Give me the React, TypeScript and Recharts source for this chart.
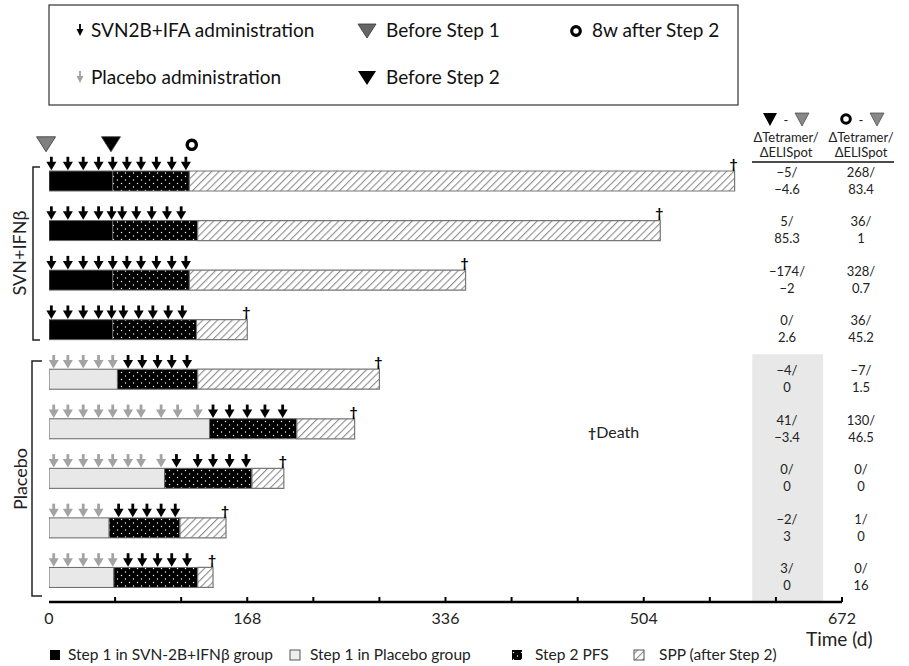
import React from 'react';
import { ComposedChart, Bar, XAxis, YAxis, Cell, ReferenceDot, ReferenceArea } from 'recharts';

const FONT = 'Lato, "Open Sans", sans-serif';

// ---- data ----
const rows = ['S1', 'S2', 'S3', 'S4', 'P1', 'P2', 'P3', 'P4', 'P5'];
const isPlacebo = [false, false, false, false, true, true, true, true, true];
const step1End = [54, 54, 54, 54, 58, 136, 98, 51, 55];
const step2End = [119, 126, 119, 125, 126, 210, 172, 111, 126];
const lastDay = [581, 518, 353, 168, 280, 259, 199, 150, 139];

const vaccineDays = [
  [2, 16, 29, 42, 54, 66, 78, 91, 104, 116],
  [2, 16, 29, 42, 53, 62, 74, 87, 100, 112],
  [2, 16, 29, 42, 54, 66, 78, 91, 104, 116],
  [2, 16, 29, 42, 53, 63, 76, 88, 101, 113],
  [67, 79, 92, 104, 117],
  [139, 153, 168, 183, 198],
  [108, 126, 139, 153, 167],
  [59, 71, 83, 95, 107],
  [67, 79, 92, 104, 117],
];
const placeboDays = [
  [], [], [], [],
  [4, 16, 29, 42, 54],
  [4, 16, 29, 42, 54, 67, 78, 95, 109, 126],
  [4, 16, 29, 42, 54, 67, 78, 95],
  [4, 16, 29, 42],
  [4, 16, 29, 42, 54],
];

const beforeStep1Day = -2.5;
const beforeStep2Day = 52.5;
const after8wDay = 121;

const tetBefore = [-5, 5, -174, 0, -4, 41, 0, -2, 3];
const eliBefore = [-4.6, 85.3, -2, 2.6, 0, -3.4, 0, 3, 0];
const tet8w = [268, 36, 328, 36, -7, 130, 0, 1, 0];
const eli8w = [83.4, 1, 0.7, 45.2, 1.5, 46.5, 0, 0, 16];

const xTicks = [0, 56, 112, 168, 224, 280, 336, 392, 448, 504, 560, 616, 672];
const xLabelTicks = [0, 168, 336, 504, 672];

const legendItems = ['Step 1 in SVN-2B+IFN\u03b2 group', 'Step 1 in Placebo group', 'Step 2 PFS', 'SPP (after Step 2)'];

const data = rows.map((name, i) => ({
  name,
  s1: step1End[i],
  s2: step2End[i] - step1End[i],
  s3: lastDay[i] - step2End[i],
}));

const fmt = (v: number) => (v < 0 ? '\u2212' + String(Math.abs(v)) : String(v));

// ---- shapes ----
const Arrow = (color: string) => (props: any) => {
  const { cx, cy } = props;
  return (
    <g>
      <line x1={cx} x2={cx} y1={cy - 24} y2={cy - 18} stroke={color} strokeWidth={2.8} />
      <polygon points={`${cx - 5},${cy - 19} ${cx + 5},${cy - 19} ${cx},${cy - 10.5}`} fill={color} />
    </g>
  );
};
const BlackArrow = Arrow('#000');
const GreyArrow = Arrow('#a3a3a3');

const Dagger = (props: any) => {
  const { cx, cy } = props;
  return (
    <text x={cx - 1} y={cy - 12} textAnchor="middle" fontSize={14} fontWeight={700} fontFamily={FONT} fill="#000">
      †
    </text>
  );
};

const TriShape = (fill: string) => (props: any) => {
  const { cx, cy } = props;
  return (
    <polygon
      points={`${cx - 9.5},${cy - 44} ${cx + 9.5},${cy - 44} ${cx},${cy - 29}`}
      fill={fill}
      stroke="#333"
      strokeWidth={0.8}
    />
  );
};
const GreyTri = TriShape('#808080');
const BlackTri = TriShape('#000');
const Ring = (props: any) => {
  const { cx, cy } = props;
  return <circle cx={cx} cy={cy - 36} r={4.6} fill="#fff" stroke="#000" strokeWidth={3.4} />;
};

const XTick = (props: any) => {
  const { x, y, payload } = props;
  const v = payload.value;
  return (
    <g>
      {v !== 0 && <line x1={x} x2={x} y1={y} y2={y - 5} stroke="#000" strokeWidth={2} />}
      {xLabelTicks.includes(v) && (
        <text x={x} y={y + 22} textAnchor="middle" fontSize={16} fontFamily={FONT} fill="#222">
          {v}
        </text>
      )}
    </g>
  );
};

const TableTick = (props: any) => {
  const { x, y, payload } = props;
  const i = rows.indexOf(payload.value);
  if (i < 0) return null;
  const c1 = x - 55;
  const c2 = x + 19;
  const st = { fontSize: 13, fontFamily: FONT, fill: '#222' };
  return (
    <g>
      <text x={c1} y={y - 4} textAnchor="middle" {...st}>{fmt(tetBefore[i]) + '/'}</text>
      <text x={c1} y={y + 13} textAnchor="middle" {...st}>{fmt(eliBefore[i])}</text>
      <text x={c2} y={y - 4} textAnchor="middle" {...st}>{fmt(tet8w[i]) + '/'}</text>
      <text x={c2} y={y + 13} textAnchor="middle" {...st}>{fmt(eli8w[i])}</text>
    </g>
  );
};

const Patterns = ({ p }: { p: string }) => (
  <defs>
    <pattern id={p + 'dots'} width={8} height={7} patternUnits="userSpaceOnUse">
      <rect width={8} height={7} fill="#000" />
      <circle cx={1.5} cy={1.5} r={0.7} fill="#fff" />
      <circle cx={5.5} cy={5} r={0.7} fill="#fff" />
    </pattern>
    <pattern id={p + 'hatch'} width={5.2} height={5.2} patternUnits="userSpaceOnUse" patternTransform="rotate(45)">
      <rect width={5.2} height={5.2} fill="#fff" />
      <line x1={0} y1={0} x2={0} y2={5.2} stroke="#8e8e8e" strokeWidth={2.2} />
    </pattern>
  </defs>
);

export default function App() {
  return (
    <div style={{ position: 'absolute', left: 0, top: 0, width: 909, height: 666, background: '#fff', fontFamily: FONT }}>
      <ComposedChart
        width={909}
        height={666}
        data={data}
        layout="vertical"
        margin={{ top: 156, right: 0, bottom: 0, left: 49 }}
        barCategoryGap={0}
      >
        <Patterns p="c" />
        <XAxis
          type="number"
          domain={[0, 672]}
          ticks={xTicks}
          interval={0}
          allowDataOverflow
          height={64}
          axisLine={{ stroke: '#000', strokeWidth: 2.5 }}
          tickLine={false}
          tickSize={0}
          tickMargin={0}
          tick={<XTick />}
        />
        <YAxis
          yAxisId="left"
          type="category"
          dataKey="name"
          width={0}
          tick={false}
          tickLine={false}
          axisLine={{ stroke: '#000', strokeWidth: 2.5 }}
        />
        <YAxis
          yAxisId="right"
          orientation="right"
          type="category"
          dataKey="name"
          width={67}
          axisLine={false}
          tickLine={false}
          tickSize={0}
          tickMargin={0}
          interval={0}
          tick={<TableTick />}
        />
        <ReferenceArea yAxisId="left" x1={596} x2={656} y1="P1" y2="P5" fill="#e8e8e8" fillOpacity={1} stroke="none" ifOverflow="visible" />
        <Bar yAxisId="left" dataKey="s1" stackId="a" barSize={20} stroke="#666" strokeWidth={1} isAnimationActive={false}>
          {rows.map((r, i) => (
            <Cell key={r} fill={isPlacebo[i] ? '#e8e8e8' : '#000'} />
          ))}
        </Bar>
        <Bar yAxisId="left" dataKey="s2" stackId="a" barSize={20} fill="url(#cdots)" stroke="#666" strokeWidth={1} isAnimationActive={false} />
        <Bar yAxisId="left" dataKey="s3" stackId="a" barSize={20} fill="url(#chatch)" stroke="#777" strokeWidth={1.2} isAnimationActive={false} />
        {rows.map((r, i) =>
          placeboDays[i].map((d, j) => (
            <ReferenceDot key={`p${r}${j}`} yAxisId="left" x={d} y={r} r={0} shape={GreyArrow} ifOverflow="visible" />
          ))
        )}
        {rows.map((r, i) =>
          vaccineDays[i].map((d, j) => (
            <ReferenceDot key={`v${r}${j}`} yAxisId="left" x={d} y={r} r={0} shape={BlackArrow} ifOverflow="visible" />
          ))
        )}
        {rows.map((r, i) => (
          <ReferenceDot key={`d${r}`} yAxisId="left" x={lastDay[i]} y={r} r={0} shape={Dagger} ifOverflow="visible" />
        ))}
        <ReferenceDot yAxisId="left" x={beforeStep1Day} y="S1" r={0} shape={GreyTri} ifOverflow="visible" />
        <ReferenceDot yAxisId="left" x={beforeStep2Day} y="S1" r={0} shape={BlackTri} ifOverflow="visible" />
        <ReferenceDot yAxisId="left" x={after8wDay} y="S1" r={0} shape={Ring} ifOverflow="visible" />
      </ComposedChart>

      <svg width={909} height={666} style={{ position: 'absolute', left: 0, top: 0, pointerEvents: 'none' }} fontFamily={FONT}>
        <Patterns p="l" />
        {/* top legend box */}
        <rect x={49} y={5} width={689} height={100} fill="none" stroke="#333" strokeWidth={1.2} />
        <g>
          <line x1={80} x2={80} y1={24} y2={29} stroke="#000" strokeWidth={1.8} />
          <polygon points="76.5,29 83.5,29 80,36" fill="#000" />
          <text x={91} y={37} fontSize={19} fill="#111">SVN2B+IFA administration</text>
          <line x1={80} x2={80} y1={71} y2={76} stroke="#a3a3a3" strokeWidth={1.8} />
          <polygon points="76.5,76 83.5,76 80,83" fill="#a3a3a3" />
          <text x={91} y={84} fontSize={19} fill="#111">Placebo administration</text>
          <polygon points="358,24 376,24 367,38" fill="#666" stroke="#333" strokeWidth={0.8} />
          <text x={386} y={37} fontSize={19} fill="#111">Before Step 1</text>
          <polygon points="358,71 376,71 367,85" fill="#000" />
          <text x={386} y={84} fontSize={19} fill="#111">Before Step 2</text>
          <circle cx={576} cy={31} r={4.3} fill="#fff" stroke="#000" strokeWidth={3.2} />
          <text x={592} y={37} fontSize={19} fill="#111">8w after Step 2</text>
        </g>

        {/* group brackets */}
        <path d="M40,167 H33 V340 H40" fill="none" stroke="#222" strokeWidth={1.5} />
        <text x={0} y={0} transform="translate(26,253) rotate(-90)" textAnchor="middle" fontSize={18} fill="#222">
          SVN+IFN{'\u03b2'}
        </text>
        <path d="M42,361 H32 V596 H42" fill="none" stroke="#222" strokeWidth={1.5} />
        <text x={0} y={0} transform="translate(27,479) rotate(-90)" textAnchor="middle" fontSize={18} fill="#222">
          Placebo
        </text>

        {/* table header */}
        <polygon points="763,113 777,113 770,126" fill="#000" />
        <text x={786} y={125} textAnchor="middle" fontSize={13} fill="#222">-</text>
        <polygon points="795,113 809,113 802,126" fill="#888" stroke="#444" strokeWidth={0.7} />
        <circle cx={846} cy={119} r={4.3} fill="#fff" stroke="#000" strokeWidth={3} />
        <text x={861} y={125} textAnchor="middle" fontSize={13} fill="#222">-</text>
        <polygon points="870,113 884,113 877,126" fill="#888" stroke="#444" strokeWidth={0.7} />
        <text x={786} y={142} textAnchor="middle" fontSize={13} fill="#222">ΔTetramer/</text>
        <text x={786} y={157} textAnchor="middle" fontSize={13} fill="#222">ΔELISpot</text>
        <text x={861} y={142} textAnchor="middle" fontSize={13} fill="#222">ΔTetramer/</text>
        <text x={861} y={157} textAnchor="middle" fontSize={13} fill="#222">ΔELISpot</text>
        <line x1={752} x2={894} y1={162} y2={162} stroke="#111" strokeWidth={1.6} />

        {/* death note */}
        <text x={588} y={438} fontSize={16} fill="#222">
          <tspan fontWeight={700} fontSize={14}>†</tspan>Death
        </text>

        {/* time label */}
        <text x={806} y={646} fontSize={19} fill="#222">Time (d)</text>

        {/* bottom legend */}
        <rect x={50} y={650} width={10} height={10} fill="#000" />
        <text x={68} y={660} fontSize={15.5} fill="#222">{legendItems[0]}</text>
        <rect x={290} y={650} width={10} height={10} fill="#eee" stroke="#555" strokeWidth={1} />
        <text x={310} y={660} fontSize={15.5} fill="#222">{legendItems[1]}</text>
        <rect x={512} y={650} width={10} height={10} fill="url(#ldots)" />
        <text x={535} y={660} fontSize={15.5} fill="#222">{legendItems[2]}</text>
        <rect x={634} y={650} width={10} height={10} fill="url(#lhatch)" stroke="#555" strokeWidth={1} />
        <text x={659} y={660} fontSize={15.5} fill="#222">{legendItems[3]}</text>
      </svg>
    </div>
  );
}
